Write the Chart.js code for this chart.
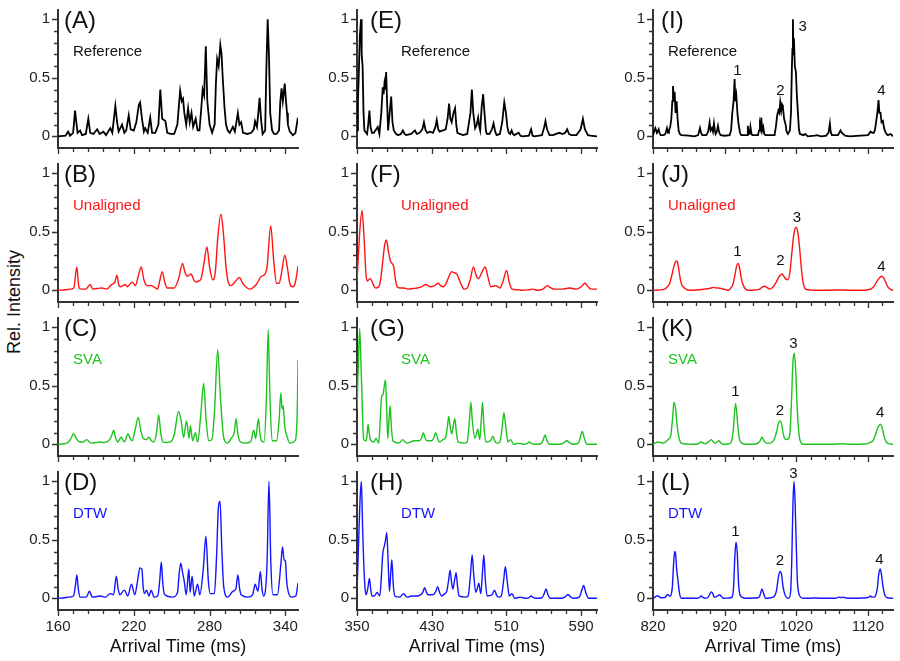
<!DOCTYPE html>
<html>
<head>
<meta charset="utf-8">
<script src="https://cdn.jsdelivr.net/npm/chart.js@4/dist/chart.umd.min.js"></script>
<style>
  html, body { margin: 0; padding: 0; background: #fff; }
  body { width: 900px; height: 661px; position: relative; overflow: hidden; font-family: "Liberation Sans", Arial, sans-serif; }
  canvas { position: absolute; }
  .ylab { position: absolute; left: 14px; top: 302px; transform: translate(-50%, -50%) rotate(-90deg); font-size: 18px; white-space: nowrap; color: #111; }
</style>
</head>
<body>
<div class="ylab">Rel. Intensity</div>
<script>
// ---- data: [arrival time (ms), relative intensity] ----
const xTicks1 = [160, 220, 280, 340];
const xTicks2 = [350, 430, 510, 590];
const xTicks3 = [820, 920, 1020, 1120];
const yTicks = [0, 0.5, 1];

const refA = [[160,0],[166,0.005],[168,0.04],[169.5,0.005],[172,0.03],[173.5,0.22],[174.5,0.12],[175.5,0.03],[177.5,0.05],[179,0.01],[182,0.02],[184,0.15],[185.5,0.03],[188,0.02],[191,0.06],[193,0.02],[196,0.04],[198,0.01],[201.4,0.07],[203,0.03],[205.4,0.26],[206.8,0.12],[208,0.04],[210.7,0.1],[212.5,0.03],[214,0.05],[216,0.18],[217.5,0.06],[220,0.05],[222,0.12],[224,0.27],[225,0.29],[226.5,0.15],[228,0.04],[229,0.07],[231,0.03],[233,0.16],[234.5,0.03],[237,0.03],[239.5,0.1],[241,0.4],[242.5,0.15],[245,0.13],[246.5,0.03],[249,0.02],[252,0.02],[254.5,0.1],[256.7,0.39],[258,0.3],[259,0.32],[260,0.2],[261.5,0.1],[263,0.24],[264.3,0.12],[265.7,0.2],[267,0.08],[269,0.15],[270.5,0.05],[272,0.05],[273.5,0.25],[274.5,0.4],[275.7,0.35],[277,0.77],[278.2,0.3],[280,0.1],[282,0.03],[284,0.1],[285,0.45],[286,0.66],[287.2,0.6],[288.5,0.78],[289.5,0.7],[290.4,0.5],[291.8,0.25],[293,0.1],[294.4,0.05],[296,0.03],[298.4,0.08],[300,0.04],[301.2,0.12],[302.4,0.2],[303.6,0.1],[305,0.12],[306.5,0.03],[310,0.02],[313,0.03],[315,0.06],[316,0.13],[317.5,0.08],[318.6,0.2],[319.6,0.33],[320.7,0.15],[322,0.02],[324,0.05],[325,0.6],[326,1.0],[327,0.7],[328,0.2],[329.5,0.05],[331,0.02],[333,0.02],[335,0.05],[336,0.3],[337,0.41],[338,0.3],[339.5,0.45],[340.5,0.3],[341.3,0.2],[342,0.1],[343.5,0.04],[346,0.01],[348,0.03],[349.6,0.14],[350,0.13]];

const uneB = [[160,0],[166,0.005],[169.6,0.01],[172.5,0.02],[174.9,0.2],[176.5,0.03],[178,0.01],[182,0.01],[185.5,0.05],[187.5,0.01],[191,0.015],[194.8,0.02],[198.8,0.01],[201.5,0.04],[204,0.06],[205,0.07],[206.7,0.13],[208,0.05],[209.4,0.03],[211.5,0.04],[213.4,0.05],[215,0.03],[218.7,0.07],[221.3,0.04],[223.5,0.12],[225.9,0.2],[228,0.09],[230.7,0.04],[233.5,0.04],[236,0.03],[238.8,0.01],[240.5,0.08],[242.6,0.16],[244.5,0.07],[246.6,0.02],[252,0.02],[255.5,0.1],[258.6,0.23],[260.6,0.15],[262.6,0.12],[265.3,0.14],[267.5,0.09],[269.3,0.07],[271.5,0.08],[273.3,0.1],[275.8,0.25],[277.9,0.37],[280,0.2],[282.5,0.09],[284.5,0.15],[286.5,0.45],[289,0.65],[291,0.48],[293,0.2],[295,0.06],[297,0.04],[300,0.07],[303.7,0.11],[305.7,0.07],[307.7,0.04],[311.7,0.01],[314,0.02],[317,0.05],[321,0.12],[323.2,0.13],[325.5,0.2],[328.4,0.55],[330.8,0.25],[333,0.06],[335,0.06],[337,0.15],[339.5,0.3],[341.5,0.2],[343.5,0.06],[345.5,0.03],[347,0.04],[348.5,0.1],[350,0.21]];

const svaC = [[160,0],[165,0.005],[168.3,0.02],[170.3,0.05],[172.2,0.09],[174.5,0.05],[177,0.02],[180,0.02],[182.8,0.04],[184.8,0.02],[186.8,0.01],[190,0.015],[193.5,0.02],[196,0.015],[198.8,0.02],[201.5,0.05],[203,0.09],[204,0.12],[205.5,0.06],[207.2,0.02],[210,0.06],[212.5,0.02],[215.5,0.09],[217,0.05],[218.7,0.03],[221,0.12],[223.5,0.23],[225.5,0.12],[227.5,0.05],[230,0.04],[232,0.06],[234,0.03],[235.8,0.02],[238,0.1],[239.7,0.25],[241.3,0.1],[243,0.02],[246,0.015],[249,0.02],[252,0.08],[255.4,0.28],[257.5,0.2],[259.4,0.06],[261.8,0.2],[263.7,0.05],[264.8,0.16],[266.6,0.03],[268.7,0.1],[270.6,0.02],[273,0.25],[275.3,0.52],[277.3,0.2],[279.4,0.03],[281.8,0.04],[284,0.3],[286.4,0.81],[288.6,0.4],[291.3,0.05],[294.4,0.01],[297,0.05],[299.5,0.1],[301,0.22],[302.3,0.1],[303.7,0.03],[307.7,0.01],[312.5,0.02],[314.9,0.12],[316.5,0.05],[318.6,0.22],[320,0.08],[321,0.03],[323.2,0.02],[325,0.4],[326.4,0.98],[327.8,0.4],[329.5,0.03],[333,0.03],[335,0.2],[336.4,0.44],[337.4,0.3],[338.3,0.33],[339.5,0.15],[341,0.08],[343.5,0.01],[347.6,0.03],[348.9,0.13],[349.6,0.4],[350,0.72]];

const dtwD = [[160,0],[165,0.005],[168.2,0.01],[172.2,0.02],[173.7,0.1],[174.9,0.2],[176.2,0.07],[177.5,0.01],[182.3,0.01],[185,0.06],[186.5,0.02],[187.6,0.01],[193.5,0.02],[197.5,0.01],[201.4,0.04],[204,0.03],[206.2,0.19],[207.6,0.08],[208.9,0.03],[212.6,0.07],[215.2,0.02],[218.2,0.12],[220.8,0.03],[223,0.15],[224.8,0.26],[226.4,0.25],[227.4,0.1],[228.5,0.04],[230,0.07],[232,0.02],[233.8,0.07],[236,0.01],[239,0.02],[240.5,0.15],[241.8,0.31],[243,0.12],[244.5,0.03],[250.6,0.01],[254.6,0.05],[256,0.22],[257.2,0.3],[258.6,0.22],[259.9,0.15],[261.5,0.03],[263.6,0.25],[264.6,0.05],[266.2,0.19],[267.8,0.02],[270.5,0.12],[272.3,0.03],[275,0.25],[277.1,0.53],[279,0.15],[280.6,0.04],[283.8,0.04],[285.5,0.35],[287,0.78],[288.3,0.83],[289.6,0.45],[291.2,0.1],[294.4,0.01],[298.4,0.06],[300.8,0.08],[302.4,0.2],[303.8,0.08],[305,0.03],[310.3,0.01],[314,0.03],[316.2,0.12],[317.4,0.08],[318.3,0.06],[320.2,0.23],[321.5,0.08],[322.8,0.02],[325.5,0.3],[327,1.0],[328.5,0.3],[330.2,0.03],[333.7,0.03],[336.5,0.3],[337.7,0.44],[339,0.33],[340,0.32],[341,0.15],[342.2,0.06],[344.9,0.01],[348.3,0.02],[350,0.13]];

const refE = [[350,0.05],[351,0.3],[351.8,0.5],[353,0.85],[354.3,1.0],[355,0.7],[356,0.6],[357,0.2],[357.9,0.05],[360.8,0.02],[362,0.1],[363.3,0.22],[364.5,0.08],[366,0.03],[368,0.03],[369.7,0.05],[372.2,0.08],[374,0.02],[376,0.2],[377.6,0.42],[378.5,0.36],[379.4,0.45],[380.3,0.4],[381.2,0.55],[382.2,0.3],[383.3,0.05],[385,0.2],[386.6,0.34],[388,0.12],[389.4,0.05],[392,0.02],[394,0.01],[397,0.02],[399.1,0.05],[401,0.02],[402.7,0.01],[408,0.02],[412,0.05],[414,0.02],[417,0.03],[420,0.06],[421.7,0.12],[423.5,0.05],[425.3,0.03],[428,0.04],[431.4,0.03],[434,0.08],[435.4,0.14],[437,0.06],[438.5,0.04],[442,0.05],[445,0.06],[447,0.15],[448.6,0.28],[450,0.15],[451.4,0.12],[453.3,0.2],[455,0.24],[456.3,0.1],[457.5,0.03],[460,0.02],[463.6,0.01],[468,0.02],[471.5,0.2],[473,0.4],[474.5,0.2],[476.5,0.07],[478.2,0.1],[479.7,0.16],[481,0.08],[481.9,0.05],[483.5,0.25],[485.1,0.36],[486.5,0.2],[488,0.05],[489,0.02],[492,0.02],[494.5,0.06],[496.2,0.11],[498,0.04],[499.5,0.01],[503,0.02],[505.5,0.12],[507.7,0.29],[509.5,0.2],[511,0.08],[512.4,0.03],[514,0.02],[515.6,0.05],[517,0.02],[518.5,0.01],[523.1,0.03],[525,0.005],[527.4,0],[534,0.005],[536.4,0.06],[538,0.005],[540,0],[548,0.01],[550.5,0.08],[551.8,0.13],[553.5,0.06],[556.1,0.01],[560,0.01],[563,0.02],[566.8,0.03],[570,0.02],[573,0.03],[575.1,0.06],[577,0.02],[579.4,0.01],[585,0.01],[589.5,0.06],[591.9,0.15],[594,0.06],[597.3,0.01],[600,0.005],[607,0]];

const uneF = [[350,0.08],[351.5,0.3],[352.9,0.5],[355.4,0.68],[357.9,0.4],[359.5,0.15],[360.8,0.08],[362.6,0.09],[364.4,0.1],[366.8,0.06],[368.5,0.03],[370.4,0.02],[373.3,0.03],[375.5,0.1],[377.6,0.25],[379.5,0.38],[381.5,0.43],[383.5,0.34],[385.8,0.25],[387.5,0.23],[389.4,0.2],[391,0.1],[393,0.03],[396,0.02],[400.2,0.02],[405.6,0.01],[410,0.015],[414.5,0.02],[419,0.03],[423.5,0.05],[426,0.04],[428.9,0.03],[433,0.04],[437.1,0.06],[439.5,0.04],[442.1,0.03],[445,0.05],[448,0.11],[451.4,0.16],[454,0.15],[456.8,0.14],[459,0.1],[461.5,0.05],[464.7,0.01],[468,0.02],[471.5,0.1],[474.7,0.2],[477.5,0.13],[480.1,0.1],[483.5,0.15],[487.3,0.2],[490,0.12],[493.4,0.03],[496,0.035],[498.7,0.04],[501,0.03],[503,0.02],[506.5,0.08],[510.2,0.17],[513,0.07],[516,0.01],[522,0.005],[527.4,0],[534,0.005],[538.2,0.01],[543.5,0],[549,0.01],[553.9,0.04],[557.5,0.02],[561.5,0.01],[570,0.01],[577.6,0.02],[581,0.015],[584.8,0.01],[590,0.03],[594.1,0.06],[597.5,0.03],[600.9,0.01],[607,0.01]];

const svaG = [[350,0.3],[351.5,0.7],[352.9,0.99],[354.2,0.7],[355.4,0.4],[356.3,0.15],[357.2,0.04],[359.7,0.03],[360.8,0.08],[361.8,0.17],[363,0.1],[364.3,0.04],[367.9,0.02],[370.4,0.05],[373.3,0.01],[374.8,0.2],[376.2,0.4],[378,0.43],[379.3,0.5],[380.5,0.55],[381.8,0.3],[383,0.05],[384.2,0.2],[385.5,0.33],[386.8,0.15],[388.4,0.03],[394.8,0.01],[399.1,0.04],[401.5,0.02],[403.8,0.01],[407.4,0.02],[410.9,0.03],[416.3,0.03],[419,0.05],[421,0.1],[423,0.05],[425.3,0.03],[430,0.03],[432.5,0.06],[434.3,0.1],[436.3,0.05],[438.5,0.02],[442,0.04],[445,0.06],[446.8,0.15],[448.2,0.24],[449.8,0.15],[451.4,0.09],[453,0.15],[454.7,0.22],[456.5,0.1],[458.2,0.02],[464.7,0.01],[468,0.02],[470.3,0.2],[471.9,0.36],[473.5,0.2],[476.2,0.05],[477.9,0.09],[479.4,0.13],[480.6,0.07],[481.5,0.04],[483,0.2],[484.4,0.36],[486,0.15],[488,0.02],[493,0.03],[495.5,0.07],[497.5,0.03],[499.5,0.01],[503,0.02],[505.5,0.15],[507.3,0.27],[509.3,0.15],[511.6,0.02],[514.5,0.04],[517.7,0],[523.1,0.01],[529.2,0],[532,0.005],[534.6,0.02],[537,0.005],[540,0],[547,0.005],[549.5,0.04],[551.4,0.08],[553.5,0.03],[556.1,0],[566.8,0],[571,0.01],[574.7,0.03],[578,0.01],[581.2,0],[587,0.01],[589.5,0.07],[591.2,0.11],[593.5,0.05],[596.2,0],[607,0]];

const dtwH = [[350,0.05],[351,0.3],[351.8,0.5],[353.3,0.85],[354.7,1.0],[356,0.6],[357.2,0.3],[358.5,0.1],[359.7,0.03],[361.5,0.08],[363.3,0.17],[364.8,0.07],[366.1,0.02],[368.6,0.02],[371.5,0.05],[374.4,0.02],[376.2,0.2],[377.6,0.38],[379.4,0.45],[380.6,0.5],[381.9,0.56],[383.4,0.3],[384.8,0.06],[386,0.2],[387.3,0.33],[388.8,0.12],[390.5,0.02],[395.5,0.01],[400.2,0.04],[402,0.02],[403.8,0.01],[408.4,0.02],[413.4,0.02],[418.1,0.03],[420.4,0.05],[422.4,0.09],[424.4,0.05],[426.3,0.03],[431.4,0.03],[434.4,0.06],[436.4,0.1],[438.4,0.05],[440.7,0.02],[444,0.04],[446.1,0.06],[448,0.15],[449.7,0.24],[451.2,0.14],[452.6,0.08],[454.4,0.15],[456.1,0.22],[457.7,0.1],[459.3,0.02],[465.8,0.01],[469,0.02],[471.5,0.2],[473.3,0.37],[475,0.2],[477.2,0.05],[479,0.09],[480.5,0.13],[481.7,0.07],[482.6,0.04],[484.2,0.2],[485.8,0.37],[487.5,0.15],[489.4,0.02],[494.5,0.03],[497.3,0.07],[499.3,0.03],[501.3,0.01],[504.5,0.02],[507,0.15],[508.8,0.27],[510.8,0.15],[513.1,0.02],[516,0.04],[518.8,0],[524.6,0.01],[531,0],[534,0.005],[536.4,0.02],[539,0.005],[541.8,0],[548,0.005],[550.5,0.04],[552.5,0.08],[554.5,0.03],[556.8,0],[568.6,0],[572.5,0.01],[575.8,0.03],[579,0.01],[581.9,0],[588,0.01],[590.8,0.07],[592.7,0.11],[595,0.05],[598,0],[607,0]];

const refI = [[820,0.01],[821.5,0.04],[823.3,0.07],[825.5,0.03],[827.9,0.06],[829,0.03],[830.7,0.01],[835,0.01],[837.2,0.02],[839.5,0.07],[841,0.03],[842.3,0.05],[844,0.08],[845.6,0.15],[847,0.3],[847.9,0.43],[849,0.3],[850.2,0.38],[851.5,0.2],[853,0.3],[854.3,0.15],[855.8,0.05],[857.5,0.02],[859.5,0.01],[870,0.005],[878,0],[883,0.01],[885.6,0.07],[887,0.03],[888.8,0.01],[894.4,0.01],[897,0.04],[899,0.12],[900.5,0.05],[902.3,0.07],[903.7,0.04],[905.1,0.11],[906.3,0.05],[907.4,0.02],[909,0.04],[910.7,0.09],[912.5,0.03],[914.4,0.01],[920,0.005],[927,0.01],[929,0.05],[930.7,0.2],[932.5,0.3],[933.9,0.49],[935,0.3],[936.3,0.35],[937.8,0.2],[939.5,0.1],[941.5,0.03],[943.2,0.01],[951.6,0.01],[952.3,0.09],[953.5,0.02],[954.9,0.02],[956,0.08],[956.7,0.08],[957.5,0.02],[958.6,0.01],[966.5,0.01],[968,0.05],[969.3,0.1],[970.3,0.07],[971.1,0.16],[972.5,0.05],[973.9,0.08],[975.3,0.02],[976.7,0.01],[989.7,0.01],[991.5,0.08],[993.4,0.18],[995,0.22],[996.4,0.2],[997.6,0.29],[999,0.22],[1000.2,0.27],[1001.3,0.25],[1003,0.15],[1005.1,0.1],[1006.5,0.04],[1008.3,0.02],[1011.1,0.05],[1012.6,0.2],[1013.9,0.6],[1014.6,0.75],[1015.3,1.0],[1016,0.7],[1016.7,0.84],[1018,0.6],[1019.5,0.55],[1020.8,0.35],[1022.3,0.2],[1023.7,0.06],[1025.1,0.02],[1030,0.01],[1032.5,0.02],[1036.2,0],[1046,0.005],[1048.8,0.01],[1051,0.005],[1054.8,0],[1062,0.005],[1063.2,0.02],[1065,0.03],[1066.9,0.11],[1068,0.04],[1069.7,0.01],[1078.1,0.01],[1080,0.03],[1081.8,0.05],[1083.5,0.03],[1085.5,0.02],[1088,0.005],[1094.4,0],[1120,0.01],[1121.5,0.02],[1123.6,0.04],[1126,0.03],[1128.3,0.03],[1130,0.06],[1132,0.15],[1133.5,0.22],[1134.8,0.31],[1136,0.2],[1137.6,0.2],[1139,0.12],[1140.9,0.13],[1142.5,0.07],[1144.1,0.04],[1146,0.02],[1147.8,0.01],[1151.5,0.02],[1155,0]];

const uneJ = [[820,0],[828,0.003],[836.3,0.01],[840,0.03],[843.3,0.06],[846,0.12],[849,0.2],[851,0.24],[853.5,0.25],[855.5,0.2],[858,0.1],[860,0.05],[861.9,0.03],[866,0.01],[871.2,0],[880,0.002],[892.1,0.01],[898,0.015],[901,0.02],[904.6,0.025],[908,0.02],[911.5,0.02],[915.3,0.015],[920,0.008],[925.6,0],[928.5,0.02],[931.6,0.05],[934,0.12],[936.5,0.2],[938.6,0.23],[940.6,0.2],[943,0.11],[945.6,0.05],[948.5,0.015],[952.5,0],[962,0.003],[968.8,0.01],[972,0.025],[975.8,0.035],[979,0.025],[982.8,0.01],[986,0.02],[989,0.04],[992,0.07],[995.5,0.11],[998,0.13],[1000.4,0.14],[1002.5,0.12],[1005,0.1],[1008.3,0.09],[1011,0.15],[1013.5,0.3],[1016,0.45],[1018,0.52],[1020,0.54],[1022,0.5],[1024.5,0.37],[1026.9,0.2],[1029,0.09],[1031,0.03],[1033,0.01],[1040,0.002],[1045.5,0],[1080,0.002],[1110,0],[1120,0.005],[1125,0.015],[1129.2,0.04],[1133,0.08],[1136.5,0.11],[1139.5,0.12],[1142.5,0.1],[1145.5,0.06],[1147.8,0.03],[1151,0.01],[1155,0]];

const svaK = [[820,0],[823,0.01],[827,0.02],[830.5,0.015],[834,0.01],[837.5,0.02],[841,0.04],[844.6,0.07],[847,0.2],[849.3,0.36],[851.6,0.3],[853.9,0.15],[856.5,0.05],[859.5,0.01],[868,0.002],[878.1,0],[883,0.005],[887.4,0.02],[890,0.01],[893,0.005],[897,0.02],[901.4,0.04],[904.2,0.02],[907,0.01],[909.5,0.02],[912.1,0.03],[915,0.01],[917.7,0],[925,0.002],[929.3,0.02],[932,0.12],[935.3,0.35],[938.5,0.15],[940.5,0.05],[942.3,0.02],[946,0.005],[952.5,0],[962,0.002],[966.5,0.01],[969.5,0.03],[972.1,0.06],[975,0.03],[978.1,0.01],[983,0.01],[986.5,0.02],[989.7,0.05],[993,0.12],[995,0.18],[997.2,0.2],[999.5,0.17],[1001.5,0.1],[1003.7,0.05],[1006.5,0.04],[1009.3,0.05],[1011.5,0.12],[1013.5,0.4],[1015.3,0.7],[1017.2,0.78],[1019,0.65],[1021,0.35],[1022.8,0.15],[1024.6,0.05],[1027,0.01],[1029.3,0],[1050,0],[1068.8,0],[1080,0.003],[1085.1,0.005],[1090,0.002],[1096.7,0],[1115,0.002],[1121,0.01],[1124.5,0.02],[1126.9,0.03],[1130,0.07],[1133.5,0.14],[1136,0.165],[1137.6,0.17],[1140,0.14],[1142.5,0.07],[1145.5,0.02],[1149,0.005],[1155,0]];

const dtwL = [[820,0],[823,0.01],[825,0.02],[827,0.02],[829.5,0.01],[831,0.005],[834,0.005],[837.5,0.01],[839.5,0.03],[841,0.03],[843,0.02],[844.6,0.02],[846,0.05],[847,0.1],[848.8,0.3],[850.2,0.4],[851.5,0.38],[853,0.25],[854.9,0.15],[856.8,0.05],[859.5,0],[880.5,0],[884.5,0.005],[887.4,0.02],[890,0.005],[893,0],[897,0.01],[899.5,0.04],[901.4,0.055],[903.5,0.04],[905,0.015],[907,0.01],[910,0.02],[913,0.03],[915.5,0.015],[918.6,0],[926,0.002],[930.2,0.01],[932.5,0.1],[934.2,0.35],[935.8,0.48],[937.5,0.4],[939.5,0.12],[941,0.04],[942.3,0.02],[946,0.005],[952.5,0],[960,0.002],[966.5,0.005],[969,0.02],[970.5,0.05],[972.1,0.08],[974,0.05],[975.8,0.015],[977.6,0],[984,0.005],[989.7,0.02],[992.5,0.07],[994.5,0.16],[997.2,0.23],[999.5,0.2],[1001.5,0.1],[1003.7,0.04],[1006,0.01],[1009.3,0],[1012,0.05],[1013.8,0.35],[1015.3,0.8],[1016.7,1.0],[1018.2,0.85],[1020,0.45],[1021.5,0.15],[1023.2,0.05],[1026,0.01],[1029.3,0],[1045,0.002],[1068.8,0],[1076,0.002],[1080,0.01],[1083,0.005],[1085.1,0.01],[1088,0.005],[1096.7,0],[1112,0.002],[1118,0.005],[1121.5,0.01],[1123.5,0.02],[1125.5,0.01],[1128,0.01],[1130.5,0.02],[1133,0.08],[1135,0.2],[1137.1,0.25],[1139,0.2],[1141,0.1],[1143,0.04],[1144.1,0.02],[1147,0.005],[1155,0]];

// peak number labels in the right column: [time, intensity]
const peakNames = ['1', '2', '3', '4'];
const peaksI = [[938, 0.56], [998, 0.39], [1029, 0.94], [1139, 0.39]];
const peaksJ = [[938, 0.33], [998, 0.25], [1021, 0.62], [1139, 0.20]];
const peaksK = [[935, 0.45], [997, 0.29], [1016, 0.86], [1137, 0.27]];
const peaksL = [[935, 0.57], [997, 0.32], [1016, 1.06], [1136, 0.33]];

const methods = ['Reference', 'Unaligned', 'SVA', 'DTW'];
const letters = [['(A)', '(B)', '(C)', '(D)'], ['(E)', '(F)', '(G)', '(H)'], ['(I)', '(J)', '(K)', '(L)']];
const traces = [[refA, uneB, svaC, dtwD], [refE, uneF, svaG, dtwH], [refI, uneJ, svaK, dtwL]];

// ---- layout / style ----
const FONT = '"Liberation Sans", Arial, sans-serif';
const lineColors = ['#000000', '#ff1414', '#1ec31e', '#1414ff'];
const axisColor = '#333';
const colLeft = [58, 357, 653];
const rowTop = [10, 164, 318, 472];
const plotW = 240, plotH = 138;
const yAxisW = 50, padTop = 6, padRight = 6;
const xRange = [[160, 350], [350, 607], [820, 1155]];
const xMajor = [xTicks1, xTicks2, xTicks3];
const xMinorStep = [12, 16, 20];
const letterOff = [6, 13, 8];
const labelOff = [15, 44, 15];

const decor = {
  id: 'decor',
  afterDraw(chart) {
    const o = chart.options.plugins.decor;
    const {ctx, chartArea: a, scales: {x, y}} = chart;
    ctx.save();
    ctx.strokeStyle = axisColor;
    ctx.lineWidth = 1.3;
    ctx.beginPath();
    for (let i = 0; i <= 10; i++) {
      const py = Math.round(y.getPixelForValue(i / 10)) + 0.5;
      const len = i % 5 === 0 ? 5 : 3;
      ctx.moveTo(a.left - 1, py);
      ctx.lineTo(a.left - 1 - len, py);
    }
    const [x0, x1] = o.range;
    const maj = o.majors;
    const step = o.minor;
    for (let v = x0; v <= x1 + 1e-6; v += step) {
      const px = Math.round(x.getPixelForValue(v)) + 0.5;
      const isMaj = maj.some(m => Math.abs(m - v) < 1e-6);
      ctx.moveTo(px, a.bottom + 1);
      ctx.lineTo(px, a.bottom + 1 + (isMaj ? 5 : 3));
    }
    ctx.stroke();

    ctx.textBaseline = 'middle';
    ctx.textAlign = 'left';
    ctx.fillStyle = '#111';
    ctx.font = '24px ' + FONT;
    ctx.fillText(o.letter, a.left + o.letterOff, y.getPixelForValue(0.98));
    ctx.font = '15px ' + FONT;
    ctx.fillStyle = o.labelColor;
    ctx.fillText(o.label, a.left + o.labelOff, y.getPixelForValue(0.72));
    if (o.peaks) {
      ctx.fillStyle = '#111';
      ctx.textAlign = 'center';
      o.peaks.forEach((p, i) => {
        ctx.fillText(peakNames[i], x.getPixelForValue(p[0]), y.getPixelForValue(p[1]));
      });
    }
    ctx.restore();
  }
};

function makePanel(col, row) {
  const bottomRow = row === 3;
  const xAxisH = bottomRow ? 51 : 8;
  const cv = document.createElement('canvas');
  const w = yAxisW + plotW + padRight;
  const h = padTop + plotH + xAxisH;
  cv.width = w;
  cv.height = h;
  cv.style.left = (colLeft[col] - yAxisW) + 'px';
  cv.style.top = (rowTop[row] - padTop) + 'px';
  cv.style.width = w + 'px';
  cv.style.height = h + 'px';
  document.body.appendChild(cv);

  const pts = traces[col][row].map(p => ({x: p[0], y: p[1]}));
  const isRef = row === 0;
  const peakSets = [peaksI, peaksJ, peaksK, peaksL];

  new Chart(cv, {
    type: 'line',
    data: {
      datasets: [{
        data: pts,
        borderColor: lineColors[row],
        borderWidth: isRef ? 1.8 : 1.4,
        pointRadius: 0,
        tension: isRef ? 0 : 0.4,
        cubicInterpolationMode: isRef ? 'default' : 'monotone',
        fill: false
      }]
    },
    options: {
      responsive: false,
      animation: false,
      devicePixelRatio: 1,
      layout: {padding: {left: 0, top: padTop, right: padRight, bottom: 0}},
      plugins: {
        legend: {display: false},
        tooltip: {enabled: false},
        decor: {
          range: xRange[col],
          majors: xMajor[col],
          minor: xMinorStep[col],
          letter: letters[col][row],
          letterOff: letterOff[col],
          label: methods[row],
          labelOff: labelOff[col],
          labelColor: row === 0 ? '#111' : lineColors[row],
          peaks: col === 2 ? peakSets[row] : null
        }
      },
      scales: {
        x: {
          type: 'linear',
          min: xRange[col][0],
          max: xRange[col][1],
          grid: {display: false, drawTicks: false},
          border: {display: true, color: axisColor, width: 2},
          ticks: {
            display: bottomRow,
            padding: 8,
            color: '#222',
            font: {size: 15, family: FONT},
            callback: v => String(v)
          },
          afterBuildTicks: s => { s.ticks = xMajor[col].map(v => ({value: v})); },
          afterFit: s => { s.height = xAxisH; s.paddingLeft = 0; s.paddingRight = 0; },
          title: {
            display: bottomRow,
            text: 'Arrival Time (ms)',
            color: '#111',
            font: {size: 18, family: FONT},
            padding: {top: 0, bottom: 3}
          }
        },
        y: {
          type: 'linear',
          min: -0.1,
          max: 1.08,
          grid: {display: false, drawTicks: false},
          border: {display: true, color: axisColor, width: 2},
          ticks: {
            padding: 8,
            color: '#222',
            font: {size: 15, family: FONT},
            callback: v => String(v)
          },
          afterBuildTicks: s => { s.ticks = yTicks.map(v => ({value: v})); },
          afterFit: s => { s.width = yAxisW; s.paddingTop = 0; s.paddingBottom = 0; }
        }
      }
    },
    plugins: [decor]
  });
}

for (let c = 0; c < 3; c++) {
  for (let r = 0; r < 4; r++) makePanel(c, r);
}
</script>
</body>
</html>
